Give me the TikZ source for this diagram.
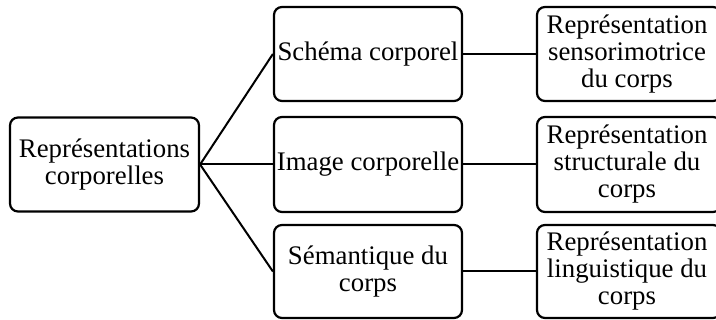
\documentclass[tikz,border=0pt]{standalone}
\usepackage{fontspec}
\setmainfont{Liberation Serif}
\begin{document}
\begin{tikzpicture}[x=1pt,y=-1pt,
  box/.style={draw=black, line width=2.2pt, rounded corners=8pt, fill=white,
    align=center, inner sep=0pt, font=\fontsize{26.8}{27}\selectfont},
  link/.style={draw=black, line width=2pt}]
  \useasboundingbox (0,0) rectangle (716,320);
  % root
  \node[box, minimum width=189pt, minimum height=94pt] (root) at (104.5,164.5)
    {Représentations\\corporelles};
  % middle column
  \node[box, minimum width=188pt, minimum height=94pt] (schema) at (368,54)
    {Schéma corporel};
  \node[box, minimum width=188pt, minimum height=95pt] (image) at (368,164.5)
    {Image corporelle};
  \node[box, minimum width=188pt, minimum height=93pt] (semant) at (368,271.5)
    {Sémantique du\\corps};
  % right column (running past the right edge)
  \node[box, minimum width=184pt, minimum height=94pt] (rsens) at (629,54)
    {\hspace*{-4pt}Représentation\\\hspace*{-4pt}sensorimotrice\\\hspace*{-4pt}du corps};
  \node[box, minimum width=184pt, minimum height=95pt] (rstruct) at (629,164.5)
    {\hspace*{-4pt}Représentation\\\hspace*{-4pt}structurale du\\\hspace*{-4pt}corps};
  \node[box, minimum width=184pt, minimum height=93pt] (rling) at (629,271.5)
    {\hspace*{-4pt}Représentation\\\hspace*{-4pt}linguistique du\\\hspace*{-4pt}corps};
  % connectors
  \draw[link] (root.east) -- (schema.west);
  \draw[link] (root.east) -- (image.west);
  \draw[link] (root.east) -- (semant.west);
  \draw[link] (schema.east) -- (rsens.west);
  \draw[link] (image.east) -- (rstruct.west);
  \draw[link] (semant.east) -- (rling.west);
\end{tikzpicture}
\end{document}
